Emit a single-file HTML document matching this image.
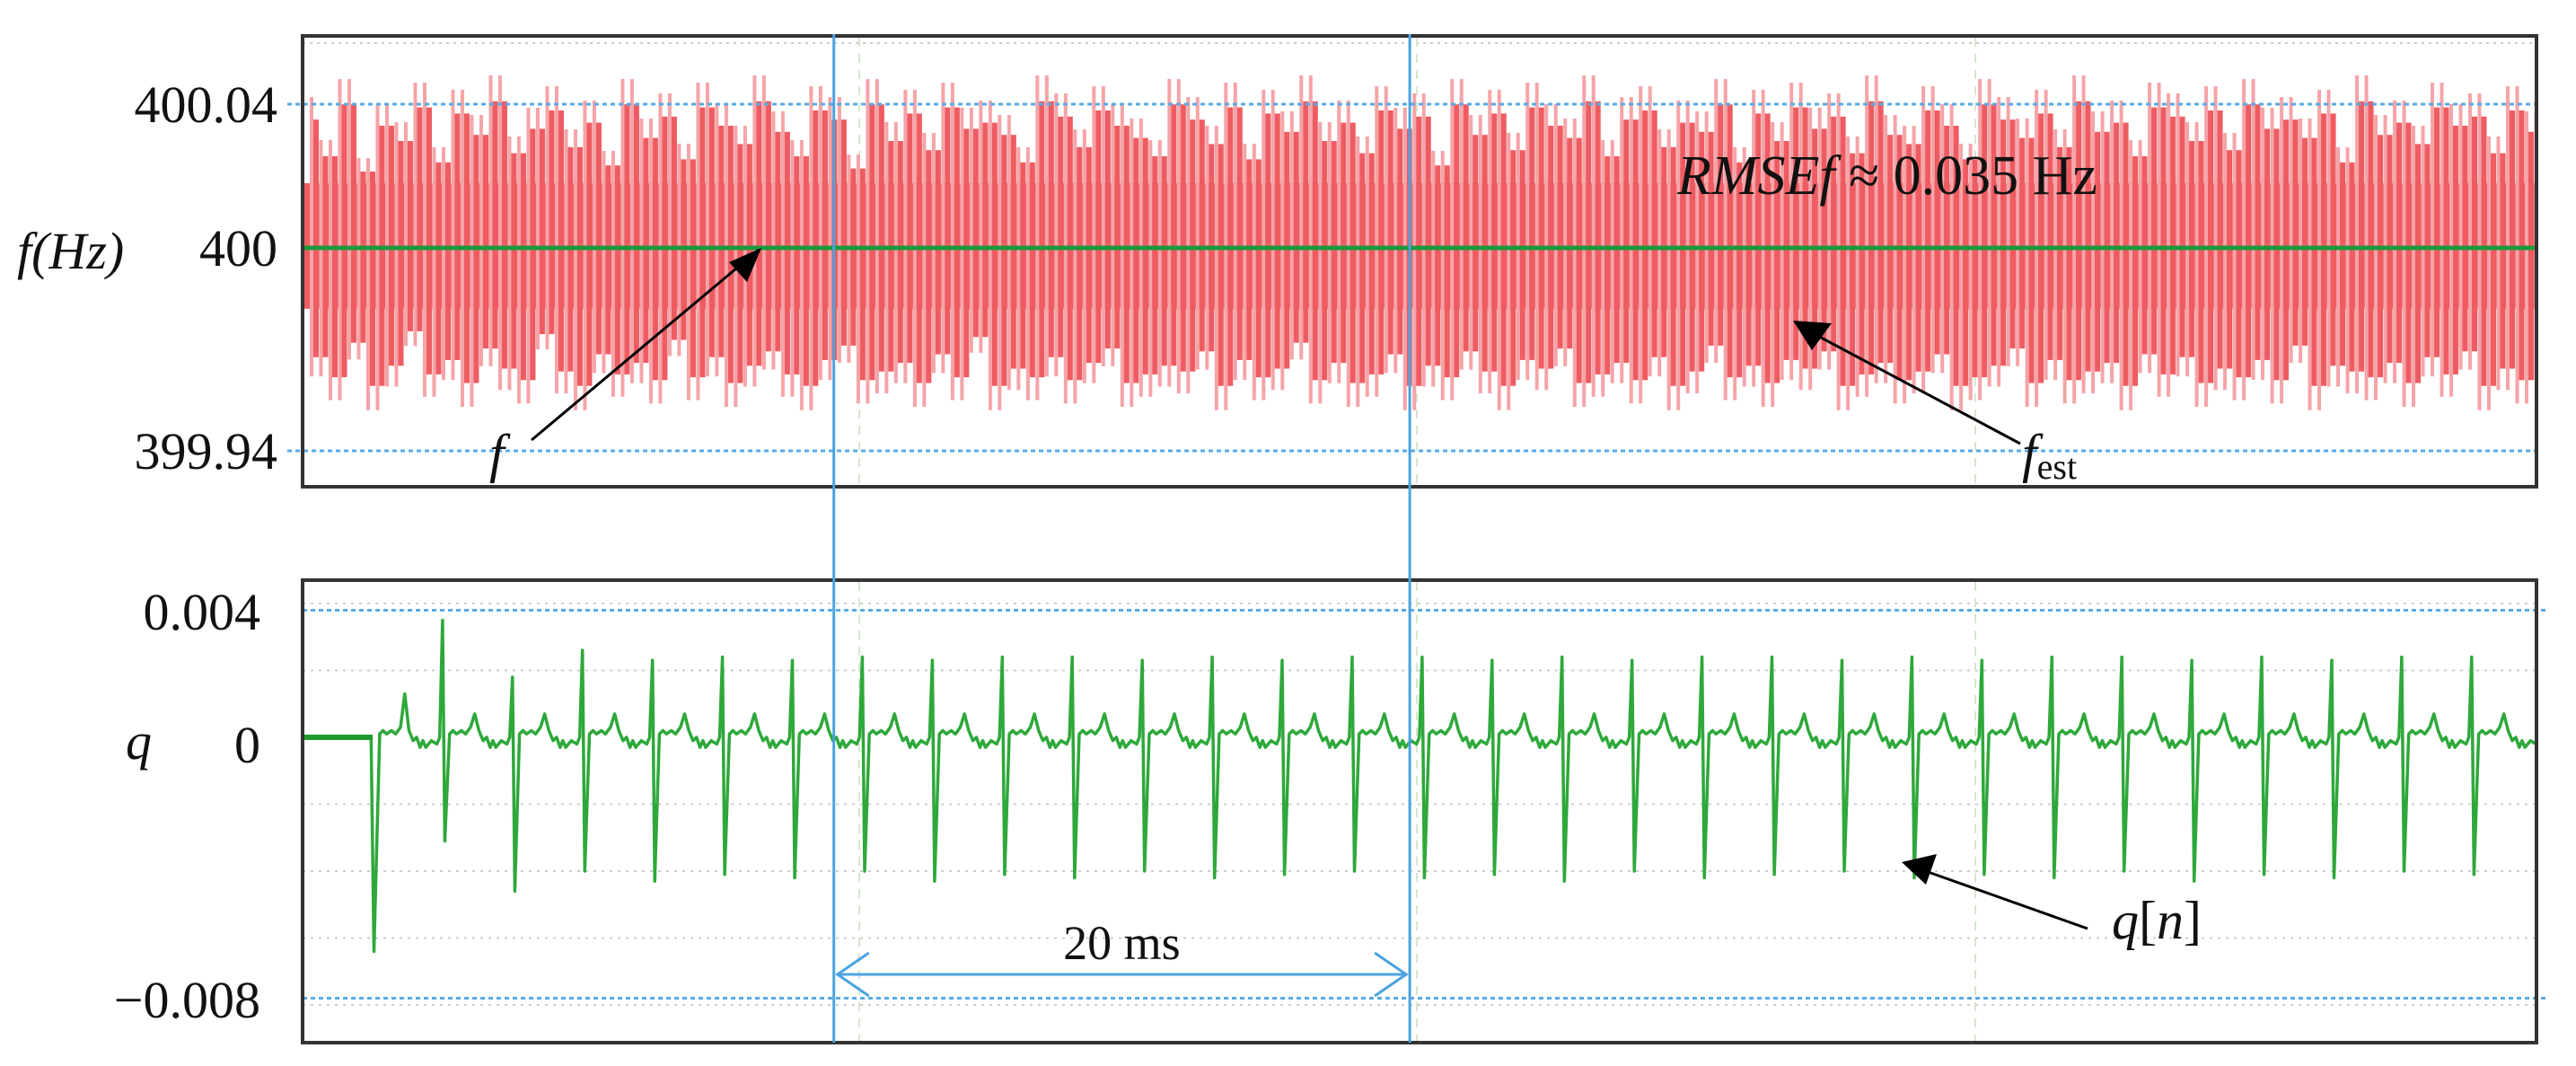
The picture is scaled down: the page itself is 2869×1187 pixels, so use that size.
<!DOCTYPE html>
<html><head><meta charset="utf-8"><style>
html,body{margin:0;padding:0;background:#fff;}
svg{display:block;font-family:"Liberation Serif",serif;}
</style></head><body>
<svg id="chart" width="2869" height="1187" viewBox="0 0 2869 1187" xmlns="http://www.w3.org/2000/svg">
<defs>
<clipPath id="clipTop"><rect x="337" y="42" width="2488" height="500"/></clipPath>
<clipPath id="clipBot"><rect x="337" y="648" width="2488" height="511"/></clipPath>
</defs>
<g id="topPanel"></g>
<g id="botPanel"></g>
<g id="annPanel"></g>
</svg>
<script>
// ---- data ----
const fTicks = [400.04, 400, 399.94];
const fTickLabels = ["400.04", "400", "399.94"];
const fTrue = 400;
const fEstDev = [42,-38,30,-45,47,-33,25,-48,40,-41,35,-29,46,-44,28,-39,44,-47,37,-35,48,-42,31,-46,39,-30,45,-43,33,-48,41,-37,27,-44,47,-40,36,-46,43,-32,29,-45,46,-38,40,-47,34,-41,48,-36,38,-44,30,-48,45,-39,42,-34,26,-46,47,-43,35,-40,44,-47,32,-37,46,-45,39,-31,41,-48,37,-42,28,-45,48,-38,43,-46,33,-40,45,-35,40,-47,36,-44,30,-41,47,-43,42,-36,34,-48,46,-39,29,-45,44,-42,38,-33,48,-46,35,-40,41,-47,31,-44,45,-37,39,-48,43,-41,27,-45,47,-36,37,-43,44,-48,32,-39,46,-42,40,-35,36,-47,48,-44,30,-40,42,-46,45,-38,33,-48,41,-43,38,-34,47,-45,28,-41,44,-47,35,-39,46,-42,39,-36,43,-48,31,-44,48,-40,37,-46,34,-43,45,-37,40,-48,29,-45,47,-41,42,-35,36,-47,44,-39,33,-46,48,-43,38,-40,41,-48,30,-37,46,-44,43,-38,35,-47,45,-42,32,-45,47,-39,39,-46,42,-34,36,-48,44,-41,28,-43,48,-45,37,-40,41,-47,34,-38,46,-44,40,-36,43,-48,31,-42,45,-46,38,-39];
const qTicks = [0.004, 0, -0.008];
const qTickLabels = ["0.004", "0", "\u22120.008"];
const qGrid = [0.004, 0.002, -0.002, -0.004, -0.006, -0.008];
const qPos = [0, 0.0035, 0.0018, 0.0026, 0.0023, 0.0024, 0.0023, 0.0024, 0.0023, 0.0024, 0.0024, 0.0023, 0.0024, 0.0023, 0.0024, 0.0024, 0.0023, 0.0024, 0.0023, 0.0024, 0.0024, 0.0023, 0.0024, 0.0023, 0.0024, 0.0024, 0.0023, 0.0024, 0.0023, 0.0024, 0.0024, 0.0023];
const qNeg = [-0.0064, -0.0031, -0.0046, -0.0040, -0.0043, -0.0041, -0.0042, -0.0040, -0.0043, -0.0041, -0.0042, -0.0040, -0.0042, -0.0041, -0.0040, -0.0042, -0.0041, -0.0043, -0.0040, -0.0042, -0.0041, -0.0040, -0.0042, -0.0041, -0.0042, -0.0040, -0.0043, -0.0041, -0.0042, -0.0040, -0.0041, -0.0042];
const ripplePhase = [0.10,0.15,0.20,0.27,0.33,0.40,0.46,0.52,0.58,0.63,0.68,0.72,0.76,0.84,0.92,0.96];
const rippleVal = [0.0001,0.0002,0.0001,0.0002,0.0001,0.0003,0.0007,0.0002,-0.0001,0.0000,-0.0003,-0.0001,-0.0003,-0.0001,-0.0002,0.0000];
const firstEventMs = 2.43;
const periodMs = 2.43;
const markerMs = [18.45, 38.45];

// ---- axes ----
const X0 = 337, X1 = 2825, msPx = 32.07;
const xT = t => X0 + t * msPx;
const yF = v => v >= 400 ? 276 - (v - 400) * 4000 : 276 + (400 - v) * 3767;
const yQ = v => 821 - v * 37250;
const NS = "http://www.w3.org/2000/svg";
function mk(parent, tag, attrs, text) {
  const el = document.createElementNS(NS, tag);
  for (const k in attrs) el.setAttribute(k, attrs[k]);
  if (text !== undefined) el.textContent = text;
  parent.appendChild(el);
  return el;
}
const gTop = document.getElementById('topPanel'), gBot = document.getElementById('botPanel'), gAnn = document.getElementById('annPanel');

// ---- top panel ----
let e;
e = mk(gTop, 'line', {x1:X0,x2:X1,y1:48,y2:48,stroke:'#ccc','stroke-width':2,'stroke-dasharray':'3 5'});


[957, 1578, 2200].forEach(x => {
  e = mk(gTop, 'line', {x1:x,x2:x,y1:42,y2:541,stroke:'#d7e6cf','stroke-width':2,'stroke-dasharray':'10 8'});
  
  
});
const band = mk(gTop, 'g', {'clip-path':'url(#clipTop)'});


e = mk(band, 'rect', {x:X0, width:X1 - X0, y:yF(400.018), height:yF(399.982) - yF(400.018), fill:'#ee5c62'});


const step = (X1 - X0) / (fEstDev.length - 1);
for (let i = 0; i < fEstDev.length; i++) {
  const a = fEstDev[Math.max(0, i - 1)] / 1000, b = fEstDev[i] / 1000;
  const hi = Math.max(a, b), lo = Math.min(a, b);
  const x = X0 + i * step;
  e = mk(band, 'rect', {x:x - 2.5, width:4, y:yF(400 + hi), height:yF(400 + lo) - yF(400 + hi), fill:'#f5a4a8'});
  
  
  e = mk(band, 'rect', {x:x + 1.5, width:6, y:yF(400 + hi * 0.85), height:yF(400 + lo * 0.85) - yF(400 + hi * 0.85), fill:'#ee5c62'});
  
  
}
[fTicks[0], fTicks[2]].forEach(v => {
  e = mk(gTop, 'line', {x1:320,x2:X1,y1:yF(v),y2:yF(v),stroke:'#5aa9e6','stroke-width':3,'stroke-dasharray':'5 4'});
  
  
});
e = mk(gTop, 'line', {x1:X0,x2:X1,y1:yF(fTrue),y2:yF(fTrue),stroke:'#1a9a3a','stroke-width':5});


e = mk(gTop, 'rect', {x:X0,y:40,width:X1 - X0,height:502,fill:'none',stroke:'#333','stroke-width':4});


fTicks.forEach((v, i) => {
  e = mk(gTop, 'text', {x:309,y:yF(v) + 20,'text-anchor':'end','font-size':58,fill:'#111'}, fTickLabels[i]);
  
  
});
e = mk(gTop, 'text', {x:19,y:299,'font-size':58,'font-style':'italic',fill:'#111'}, 'f(Hz)');



// ---- bottom panel ----
qGrid.forEach(v => {
  e = mk(gBot, 'line', {x1:X0,x2:X1,y1:yQ(v),y2:yQ(v),stroke:'#ccc','stroke-width':2,'stroke-dasharray':'3 6'});
  
  
});
[957, 1578, 2200].forEach(x => {
  e = mk(gBot, 'line', {x1:x,x2:x,y1:648,y2:1159,stroke:'#d7e6cf','stroke-width':2,'stroke-dasharray':'10 8'});
  
  
});
[0.0038, -0.0078].forEach(v => {
  e = mk(gBot, 'line', {x1:X0,x2:X1 + 12,y1:yQ(v),y2:yQ(v),stroke:'#5aa9e6','stroke-width':3,'stroke-dasharray':'5 4'});
  
  
});
const pts = [];
const t0 = firstEventMs;
pts.push([0, 0], [t0 - 0.05, 0], [t0 + 0.05, qNeg[0]], [t0 + 0.25, 0.0001]);
ripplePhase.forEach((p, j) => pts.push([t0 + p * periodMs, rippleVal[j] + (j === 6 ? 0.0006 : 0)]));
for (let k = 1; k < qPos.length; k++) {
  const ts = t0 + k * periodMs;
  pts.push([ts, qPos[k]], [ts + 0.08, qNeg[k]]);
  ripplePhase.forEach((p, j) => pts.push([ts + p * periodMs, rippleVal[j]]));
}
const qClip = mk(gBot, 'g', {'clip-path':'url(#clipBot)'});
e = mk(qClip, 'polyline', {points:pts.map(p => xT(p[0]).toFixed(1) + ',' + yQ(p[1]).toFixed(1)).join(' '),fill:'none',stroke:'#2ea83a','stroke-width':3.5,'stroke-linejoin':'round'});


e = mk(qClip, 'line', {x1:X0,x2:xT(t0),y1:yQ(0),y2:yQ(0),stroke:'#1f9a2e','stroke-width':6});


e = mk(gBot, 'rect', {x:X0,y:646,width:X1 - X0,height:515,fill:'none',stroke:'#333','stroke-width':4});


const qLabelY = [701, 849, 1133];
qTicks.forEach((v, i) => {
  e = mk(gBot, 'text', {x:290,y:qLabelY[i],'text-anchor':'end','font-size':58,fill:'#111'}, qTickLabels[i]);
  
  
});
e = mk(gBot, 'text', {x:140,y:845,'font-size':58,'font-style':'italic',fill:'#111'}, 'q');



// ---- annotations ----
markerMs.forEach(t => {
  e = mk(gAnn, 'line', {x1:xT(t),x2:xT(t),y1:38,y2:1161,stroke:'#4aa3e0','stroke-width':3});
  
  
});
const ax0 = xT(markerMs[0]) + 4, ax1 = xT(markerMs[1]) - 4, ay = 1085;
e = mk(gAnn, 'path', {d:`M${ax0},${ay} H${ax1} M${ax0 + 35},${ay - 24} L${ax0},${ay} L${ax0 + 35},${ay + 24} M${ax1 - 35},${ay - 24} L${ax1},${ay} L${ax1 - 35},${ay + 24}`,fill:'none',stroke:'#4aa3e0','stroke-width':3});


e = mk(gAnn, 'text', {x:(ax0 + ax1) / 2,y:1068,'text-anchor':'middle','font-size':54,fill:'#111'}, '20 ms');


e = mk(gAnn, 'text', {x:1868,y:216,'font-size':62,fill:'#111'});


mk(e, 'tspan', {'font-style':'italic'}, 'RMSEf');
mk(e, 'tspan', {}, ' \u2248 0.035 Hz');
e = mk(gAnn, 'line', {x1:592,y1:490,x2:845,y2:278,stroke:'#000','stroke-width':3});


e = mk(gAnn, 'polygon', {points:'848,276 812,292 832,314',fill:'#000'});


e = mk(gAnn, 'text', {x:545,y:525,'font-size':60,'font-style':'italic',fill:'#111'}, 'f');


e = mk(gAnn, 'line', {x1:2250,y1:494,x2:2002,y2:362,stroke:'#000','stroke-width':3});


e = mk(gAnn, 'polygon', {points:'1997,357 2040,360 2018,390',fill:'#000'});


e = mk(gAnn, 'text', {x:2252,y:525,'font-size':60,fill:'#111'});


mk(e, 'tspan', {'font-style':'italic'}, 'f');
mk(e, 'tspan', {'font-size':40,dy:8}, 'est');
e = mk(gAnn, 'line', {x1:2325,y1:1034,x2:2125,y2:963,stroke:'#000','stroke-width':3});


e = mk(gAnn, 'polygon', {points:'2118,960 2157,951 2145,985',fill:'#000'});


e = mk(gAnn, 'text', {x:2352,y:1045,'font-size':60,fill:'#111'});


mk(e, 'tspan', {'font-style':'italic'}, 'q');
mk(e, 'tspan', {}, '[');
mk(e, 'tspan', {'font-style':'italic'}, 'n');
mk(e, 'tspan', {}, ']');
</script>
</body></html>
